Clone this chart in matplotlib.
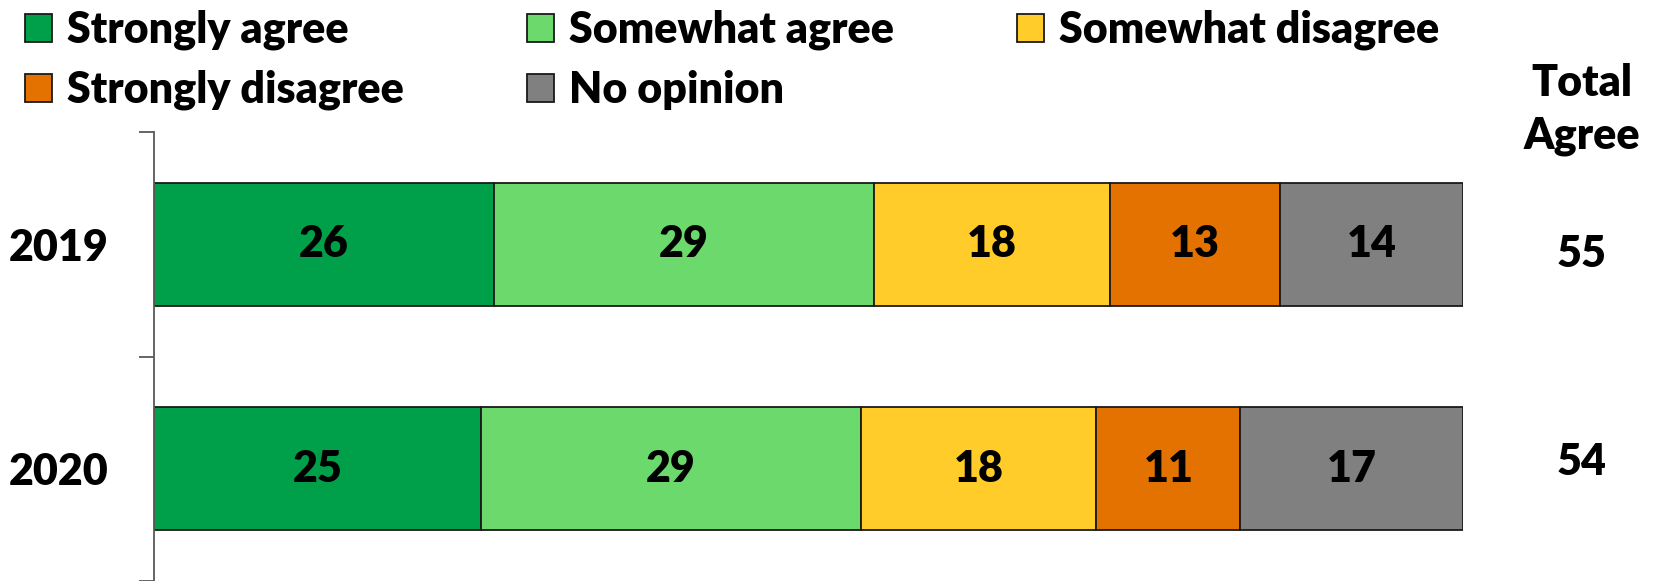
import matplotlib
matplotlib.use("Agg")
import matplotlib.pyplot as plt
from matplotlib.patches import Patch

plt.rcParams["font.family"] = ["Lato", "DejaVu Sans"]
plt.rcParams["font.weight"] = "heavy"

# ---------------------------------------------------------
# data

years = ["2019", "2020"]
categories = ["Strongly agree", "Somewhat agree", "Somewhat disagree",
              "Strongly disagree", "No opinion"]
strongly_agree = [26, 25]
somewhat_agree = [29, 29]
somewhat_disagree = [18, 18]
strongly_disagree = [13, 11]
no_opinion = [14, 17]
total_agree = [55, 54]

colors = ["#00A04A", "#6BD96B", "#FFCC29", "#E37200", "#808080"]

# ---------------------------------------------------------

fig = plt.figure(figsize=(16.54, 5.81), dpi=100)
ax = fig.add_axes([0.0931, 0.0, 0.7914, 0.7728])

series = [strongly_agree, somewhat_agree, somewhat_disagree,
          strongly_disagree, no_opinion]
ypos = list(range(len(years)))
left = [0] * len(years)

handles = []
for name, vals, col in zip(categories, series, colors):
    bars = ax.barh(ypos, vals, left=left, height=0.55, color=col,
                   edgecolor="#1a1a1a", linewidth=1.3, label=name)
    for b, v in zip(bars, vals):
        ax.text(b.get_x() + b.get_width() / 2, b.get_y() + b.get_height() / 2,
                str(v), ha="center", va="center", fontsize=31,
                fontweight="heavy", color="black")
    left = [l + v for l, v in zip(left, vals)]
    handles.append(Patch(facecolor=col, edgecolor="#1a1a1a", linewidth=1.3,
                         label=name))

ax.set_xlim(0, 100)
ax.set_ylim(1.481, -0.5)

for s in ["top", "right", "bottom"]:
    ax.spines[s].set_visible(False)
ax.spines["left"].set_color("#595959")
ax.spines["left"].set_linewidth(1.3)

ax.set_xticks([])
ax.set_yticks(ypos)
ax.set_yticklabels(years, fontsize=31, fontweight="heavy")
ax.tick_params(axis="y", which="major", length=0, pad=33)
ax.set_yticks([-0.5, 0.5, 1.5], minor=True)
ax.tick_params(axis="y", which="minor", length=11, width=1.3, color="#595959")

# total agree column
ax.text(109.1, -0.6, "Total\nAgree", ha="center", va="center",
        fontsize=31, fontweight="heavy", linespacing=1.4, clip_on=False)
nudge = [0.045, -0.03]
for y, t, dy in zip(ypos, total_agree, nudge):
    ax.text(109.1, y + dy, str(t), ha="center", va="center",
            fontsize=31, fontweight="heavy", clip_on=False)

# legend, column-major order so rows read across
order = [0, 3, 1, 4, 2]
fig.legend([handles[i] for i in order], [categories[i] for i in order],
           loc="upper left", bbox_to_anchor=(25 / 1654, 1 - 10 / 581),
           ncol=3, frameon=False, prop={"size": 31, "weight": "heavy"},
           borderpad=0, borderaxespad=0,
           handlelength=0.63, handleheight=0.63, handletextpad=0.35,
           columnspacing=2.85, labelspacing=0.45)

fig.savefig("out.png", dpi=100)
